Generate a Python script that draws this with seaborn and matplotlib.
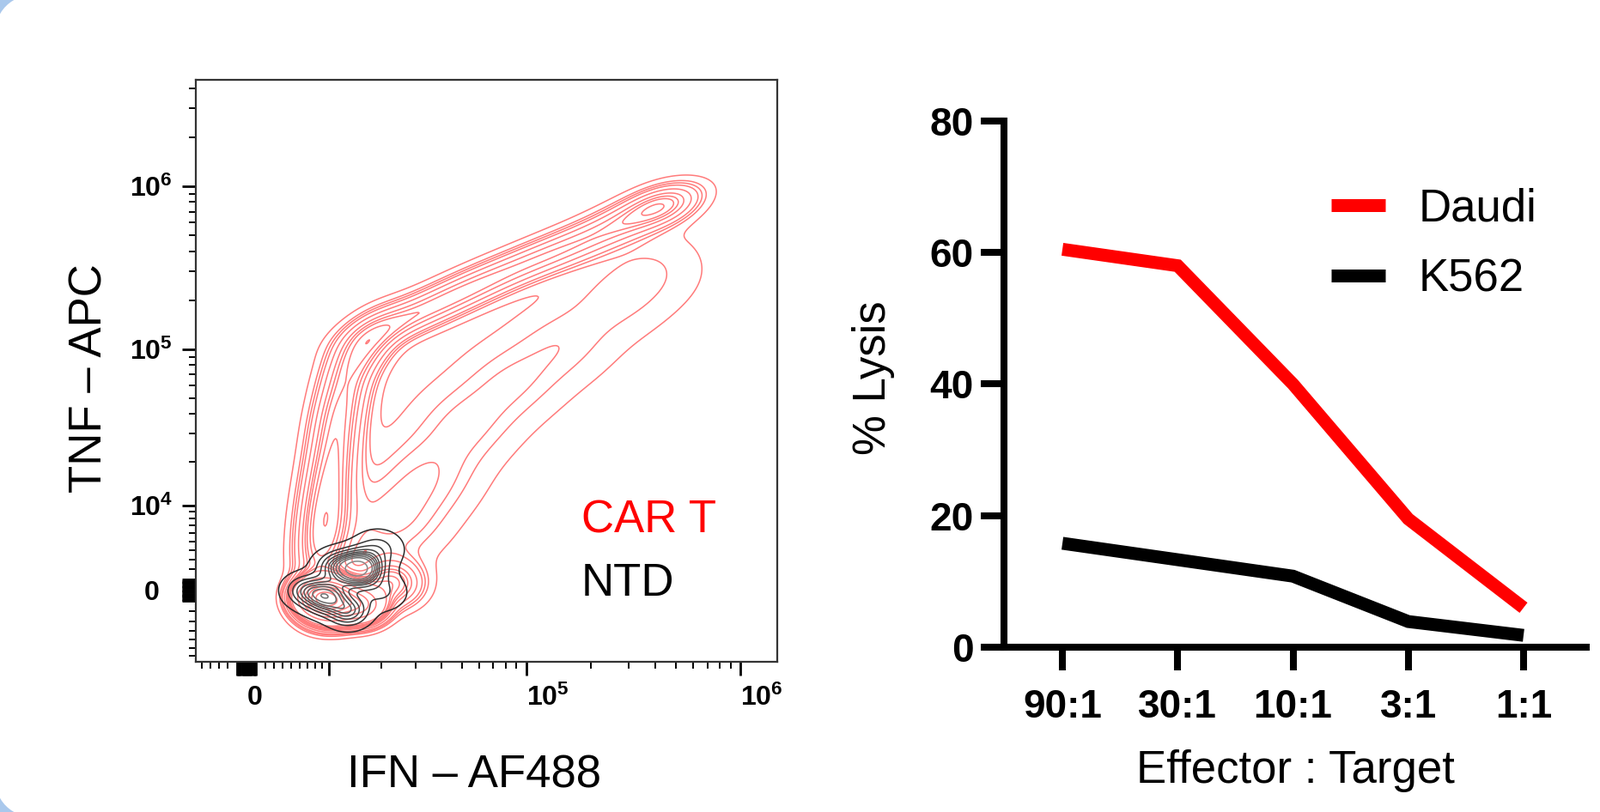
import numpy as np
import pandas as pd
import matplotlib
matplotlib.use("Agg")
import matplotlib.pyplot as plt
from matplotlib.patches import FancyBboxPatch
from matplotlib.ticker import FixedLocator, FixedFormatter
from matplotlib.transforms import ScaledTranslation
import seaborn as sns

# flow panel: anchor events (fluorescence units), their
# relative weight and kernel shape (spread along / across in display decades,
# orientation in degrees)
cart_ifn = [10300, 8410, 15600, 22400,
            9010, 9660, 10600, 11700, 13200, 16400,
            21300, 33200, 50900, 85000, 148000, 258000, 408000,
            23500, 40200, 64300, 107000, 170000, 270000, 390000, 448000]
cart_tnf = [-970, -565, -1380, 646,
            4100, 9900, 19400, 36400, 63000, 102000,
            7250, 16000, 34200, 63000, 109000, 200000, 325000,
            142000, 195000, 261000, 345000, 440000, 581000, 730000, 776000]
cart_weight = [30, 10, 10, 4,
               6, 5, 4.5, 4, 3.6, 3.3,
               4.5, 3.8, 3.3, 3.0, 2.7, 2.4, 2.2,
               3, 2.8, 2.6, 2.4, 2.2, 2.1, 2.4, 1.4]
cart_along = [0.075, 0.06, 0.065, 0.09] + [0.19] * 5 + [0.15] + [0.18] * 7 + \
    [0.17] * 6 + [0.15, 0.11]
cart_across = [0.075, 0.06, 0.065, 0.09] + [0.075] * 6 + [0.18] * 7 + [0.07] * 8
cart_angle = [0] * 4 + [84, 84, 82, 80, 72, 56] + [0] * 7 + [28] * 8

ntd_ifn = [9660, 15100, 6680, 13200, 19200, 11000, 20300]
ntd_tnf = [-565, 2050, 0, -1960, 4100, 2300, -160]
ntd_weight = [7, 12, 3, 4, 2.5, 3, 2]
ntd_along = [0.065, 0.065, 0.06, 0.06, 0.07, 0.06, 0.07]
ntd_across = ntd_along
ntd_angle = [0] * 7

# cytotoxicity panel
ratios = ["90:1", "30:1", "10:1", "3:1", "1:1"]
daudi_lysis = [60.5, 58, 40, 19.5, 6]
k562_lysis = [15.8, 13.3, 10.8, 3.9, 1.8]

WX, WY = 5000, 3325  # biexponential widths


def bix(v):
    return np.arcsinh(np.asarray(v, float) / (2 * WX)) / np.log(10)


def biy(v):
    return np.arcsinh(np.asarray(v, float) / (2 * WY)) / np.log(10)


def density(gx, gy, xs, ys, w, sa, sc, ang):
    xx, yy = np.meshgrid(gx, gy)
    d = np.zeros_like(xx)
    for xi, yi, wi, a, c, t in zip(bix(xs), biy(ys), w, sa, sc, ang):
        t = np.radians(t)
        u = (xx - xi) * np.cos(t) + (yy - yi) * np.sin(t)
        v = -(xx - xi) * np.sin(t) + (yy - yi) * np.cos(t)
        d += wi / (a * c) * np.exp(-0.5 * ((u / a) ** 2 + (v / c) ** 2))
    return d


def iso_levels(d, n, thresh):
    # same iso-proportion contouring that seaborn's kdeplot uses
    vals = np.sort(d.ravel())[::-1]
    cum = np.cumsum(vals) / vals.sum()
    props = np.linspace(thresh, 1, n)
    idx = np.searchsorted(cum, 1 - props)
    return np.unique(np.take(vals, idx, mode="clip"))


sns.set_style("ticks")
plt.rcParams["font.family"] = ["Liberation Sans", "DejaVu Sans"]
plt.rcParams["mathtext.fontset"] = "custom"
plt.rcParams["mathtext.rm"] = "Liberation Sans"
plt.rcParams["mathtext.bf"] = "Liberation Sans:bold"
for key in ["text.color", "axes.labelcolor", "xtick.color", "ytick.color"]:
    plt.rcParams[key] = "black"

fig = plt.figure(figsize=(18.63, 9.46), dpi=100)
fig.patch.set_facecolor("#a9c8ec")
bg = FancyBboxPatch((-8, -8), 1863 + 100, 946 + 16,
                    boxstyle="round,pad=0,rounding_size=60",
                    transform=None, fc="white", ec="none", zorder=-10)
fig.add_artist(bg)

# ---------------- left: contour plot ----------------
ax1 = fig.add_axes([228 / 1863, 175 / 946, 677 / 1863, 678 / 946])
xlim = (float(bix(-5700)), float(bix(1.48e6)))
ylim = (float(biy(-7900)), float(biy(4.5e6)))
gx = np.linspace(*xlim, 500)
gy = np.linspace(*ylim, 500)

d_cart = density(gx, gy, cart_ifn, cart_tnf, cart_weight,
                 cart_along, cart_across, cart_angle)
ax1.contour(gx, gy, d_cart, levels=iso_levels(d_cart, 18, 0.025),
            colors="#ff7b7b", linewidths=1.1)
d_ntd = density(gx, gy, ntd_ifn, ntd_tnf, ntd_weight,
                ntd_along, ntd_across, ntd_angle)
ax1.contour(gx, gy, d_ntd, levels=iso_levels(d_ntd, 11, 0.03),
            cmap=sns.blend_palette(["#2a2a2a", "#a0a0a0"], as_cmap=True),
            linewidths=1.1)

ax1.set_xlim(*xlim)
ax1.set_ylim(*ylim)

cluster = list(np.arange(-1000, 1001, 100))
x_major = cluster + [1e4, 1e5, 1e6]
x_labels = ["$\\mathbf{0}$" if v == 0 else "" for v in cluster] + \
    ["", "$\\mathbf{10^{5}}$", "$\\mathbf{10^{6}}$"]
x_minor = [-k * 1000 for k in range(2, 6)] + [k * 1000 for k in range(2, 10)] + \
    [k * 1e4 for k in range(2, 10)] + [k * 1e5 for k in range(2, 10)]
ax1.xaxis.set_major_locator(FixedLocator(bix(x_major)))
ax1.xaxis.set_major_formatter(FixedFormatter(x_labels))
ax1.xaxis.set_minor_locator(FixedLocator(bix(x_minor)))

y_major = cluster + [1e4, 1e5, 1e6]
y_labels = ["$\\mathbf{0}$" if v == 0 else "" for v in cluster] + \
    ["$\\mathbf{10^{4}}$", "$\\mathbf{10^{5}}$", "$\\mathbf{10^{6}}$"]
y_minor = [-k * 1000 for k in range(2, 8)] + [k * 1000 for k in range(2, 10)] + \
    [k * 1e4 for k in range(2, 10)] + [k * 1e5 for k in range(2, 10)] + \
    [k * 1e6 for k in range(2, 5)]
ax1.yaxis.set_major_locator(FixedLocator(biy(y_major)))
ax1.yaxis.set_major_formatter(FixedFormatter(y_labels))
ax1.yaxis.set_minor_locator(FixedLocator(biy(y_minor)))

ax1.tick_params(which="major", length=11.5, width=2.0, color="black",
                labelsize=23, pad=8)
ax1.tick_params(which="minor", length=5.8, width=1.4, color="black")
for lbl in ax1.get_xticklabels():
    lbl.set_ha("left")
# the "0" on the TNF axis sits under the "10" of the decade labels
zero_tick = ax1.yaxis.get_major_ticks(len(y_major))[cluster.index(0)]
zero_tick.label1.set_transform(zero_tick.label1.get_transform() +
                               ScaledTranslation(-0.15, 0, fig.dpi_scale_trans))
for sp in ax1.spines.values():
    sp.set_linewidth(1.6)
    sp.set_color("#333333")

ax1.set_xlabel("IFN – AF488", fontsize=38, va="center")
ax1.xaxis.set_label_coords(0.479, -0.195)
ax1.set_ylabel("TNF – APC", fontsize=38, va="center")
ax1.yaxis.set_label_coords(-0.182, 0.487)

ax1.text(0.663, 0.243, "CAR T", color="#ff0000", fontsize=38,
         va="center", ha="left", transform=ax1.transAxes)
ax1.text(0.663, 0.134, "NTD", color="black", fontsize=38,
         va="center", ha="left", transform=ax1.transAxes)

# ---------------- right: % lysis ----------------
ax2 = fig.add_axes([1169 / 1863, 192 / 946, 678 / 1863, 613 / 946])
df = pd.DataFrame({
    "ratio": ratios * 2,
    "lysis": daudi_lysis + k562_lysis,
    "target": ["Daudi"] * len(ratios) + ["K562"] * len(ratios),
})
sns.lineplot(data=df, x="ratio", y="lysis", hue="target",
             palette={"Daudi": "#ff0000", "K562": "#000000"},
             linewidth=10.8, sort=False, ax=ax2,
             solid_capstyle="butt", solid_joinstyle="miter")

ax2.set_xlim(-0.507, 4.544)
ax2.set_ylim(0, 80)
ax2.set_yticks([0, 20, 40, 60, 80])
sns.despine(ax=ax2)
for side in ["left", "bottom"]:
    ax2.spines[side].set_linewidth(5.8)
    ax2.spines[side].set_color("black")
ax2.tick_params(axis="y", length=19.5, width=5.8, labelsize=33, pad=6)
ax2.tick_params(axis="x", length=19.5, width=5.8, labelsize=33, pad=15)
for lbl in ax2.get_xticklabels() + ax2.get_yticklabels():
    lbl.set_fontweight("bold")

ax2.set_xlabel("Effector : Target", fontsize=38, va="center")
ax2.xaxis.set_label_coords(0.501, -0.235)
ax2.set_ylabel("% Lysis", fontsize=38, va="center")
ax2.yaxis.set_label_coords(-0.224, 0.512)

old = ax2.get_legend()
handles = old.legend_handles
labels = [t.get_text() for t in old.get_texts()]
old.remove()
for h in handles:
    h.set_linewidth(10.8)
    h.set_solid_capstyle("butt")
ax2.legend(handles, labels, loc="upper left", bbox_to_anchor=(0.562, 0.874),
           frameon=False, fontsize=38, handlelength=1.2, handletextpad=0.72,
           labelspacing=0.62, borderpad=0, borderaxespad=0)

fig.savefig("out.png", dpi=100)
